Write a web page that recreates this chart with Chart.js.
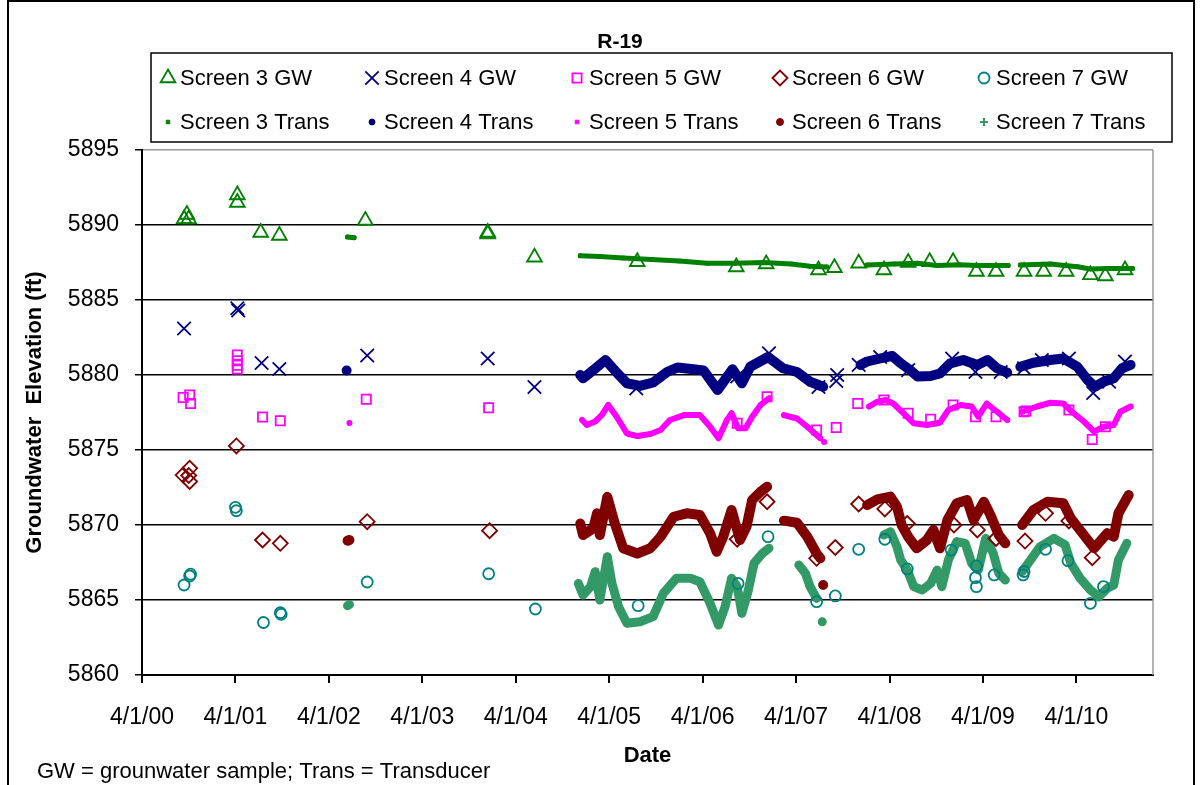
<!DOCTYPE html>
<html>
<head>
<meta charset="utf-8">
<script src="https://cdn.jsdelivr.net/npm/chart.js@4.4.1/dist/chart.umd.min.js"></script>
<style>
  body { margin: 0; background: #fff; }
  #wrap { position: relative; width: 1201px; height: 785px; overflow: hidden; }
</style>
</head>
<body>
<div id="wrap"><canvas id="chartCanvas" width="1201" height="785"></canvas></div>
<script>
// x values are decimal years (2000.25 = 4/1/00), y = elevation in ft
const TICK_POS = [2000.25, 2001.25, 2002.25, 2003.25, 2004.25, 2005.25, 2006.25, 2007.25, 2008.25, 2009.25, 2010.25];
const TICK_LABELS = ["4/1/00", "4/1/01", "4/1/02", "4/1/03", "4/1/04", "4/1/05", "4/1/06", "4/1/07", "4/1/08", "4/1/09", "4/1/10"];

const S3_GW = [
  [2000.70, 5890.4], [2000.73, 5890.7], [2000.75, 5890.4], [2001.27, 5892.0], [2001.27, 5891.5],
  [2001.52, 5889.5], [2001.72, 5889.3], [2002.64, 5890.3], [2003.95, 5889.4], [2003.95, 5889.5],
  [2004.45, 5887.85], [2005.55, 5887.55], [2006.61, 5887.2], [2006.93, 5887.4], [2007.49, 5887.0],
  [2007.66, 5887.15], [2007.92, 5887.45], [2008.19, 5887.0], [2008.45, 5887.5], [2008.68, 5887.55],
  [2008.93, 5887.55], [2009.18, 5886.9], [2009.39, 5886.9], [2009.69, 5886.9], [2009.90, 5886.9],
  [2010.14, 5886.9], [2010.40, 5886.67], [2010.56, 5886.6], [2010.77, 5887.0]
];
const S4_GW = [
  [2000.70, 5883.1], [2001.27, 5884.45], [2001.28, 5884.3], [2001.53, 5880.8], [2001.72, 5880.4],
  [2002.66, 5881.3], [2003.95, 5881.1], [2004.45, 5879.2], [2005.54, 5879.1], [2006.62, 5879.9],
  [2006.96, 5881.45], [2007.49, 5879.2], [2007.68, 5879.6], [2007.69, 5880.0], [2007.92, 5880.67],
  [2008.15, 5881.2], [2008.45, 5880.33], [2008.92, 5881.1], [2009.17, 5880.2], [2009.44, 5880.2],
  [2009.69, 5880.45], [2009.88, 5881.0], [2010.17, 5881.1], [2010.43, 5878.8], [2010.60, 5879.55],
  [2010.77, 5880.9]
];
const S5_GW = [
  [2000.69, 5878.5], [2000.76, 5878.67], [2000.77, 5878.1], [2001.27, 5881.33], [2001.27, 5880.95],
  [2001.27, 5880.65], [2001.27, 5880.4], [2001.54, 5877.2], [2001.73, 5876.95], [2002.65, 5878.38],
  [2003.96, 5877.82], [2006.62, 5876.78], [2006.94, 5878.55], [2007.47, 5876.33], [2007.68, 5876.5],
  [2007.91, 5878.1], [2008.19, 5878.33], [2008.45, 5877.45], [2008.69, 5877.05], [2008.93, 5878.0],
  [2009.17, 5877.22], [2009.39, 5877.22], [2009.69, 5877.55], [2009.71, 5877.6], [2010.17, 5877.67],
  [2010.42, 5875.7], [2010.56, 5876.55]
];
const S6_GW = [
  [2000.69, 5873.33], [2000.76, 5873.78], [2000.76, 5872.9], [2000.75, 5873.3], [2001.26, 5875.27],
  [2001.54, 5869.0], [2001.73, 5868.78], [2002.66, 5870.22], [2003.97, 5869.62], [2006.62, 5869.05],
  [2006.94, 5871.55], [2007.47, 5867.78], [2007.67, 5868.5], [2007.92, 5871.4], [2008.20, 5871.07],
  [2008.44, 5870.1], [2008.94, 5870.0], [2009.19, 5869.67], [2009.39, 5869.1], [2009.70, 5868.93],
  [2009.92, 5870.78], [2010.17, 5870.27], [2010.42, 5867.82]
];
const S7_GW = [
  [2000.70, 5866.0], [2000.76, 5866.6], [2000.77, 5866.72], [2001.25, 5871.18], [2001.26, 5870.95],
  [2001.55, 5863.5], [2001.73, 5864.15], [2001.74, 5864.05], [2002.66, 5866.2], [2003.96, 5866.75],
  [2004.46, 5864.4], [2005.56, 5864.62], [2006.63, 5866.1], [2006.95, 5869.22], [2007.47, 5864.89],
  [2007.67, 5865.27], [2007.92, 5868.38], [2008.20, 5869.05], [2008.44, 5867.07], [2008.91, 5868.33],
  [2009.18, 5867.27], [2009.17, 5866.49], [2009.18, 5865.89], [2009.37, 5866.67], [2009.68, 5866.67],
  [2009.69, 5866.9], [2009.92, 5868.38], [2010.16, 5867.62], [2010.40, 5864.78], [2010.54, 5865.89]
];

// transducer records, null = gap in the record
const S3_TR = [
  [2002.45, 5889.2], [2002.52, 5889.15], [2003.5, null],
  [2004.94, 5887.95], [2005.15, 5887.9], [2005.40, 5887.8], [2005.70, 5887.7], [2006.00, 5887.6],
  [2006.30, 5887.45], [2006.60, 5887.45], [2006.90, 5887.5], [2007.20, 5887.4], [2007.40, 5887.25],
  [2007.58, 5887.2], [2007.8, null],
  [2008.01, 5887.33], [2008.30, 5887.4], [2008.55, 5887.45], [2008.76, 5887.3], [2009.00, 5887.35],
  [2009.18, 5887.3], [2009.52, 5887.3], [2009.6, null],
  [2009.65, 5887.33], [2009.97, 5887.4], [2010.26, 5887.22], [2010.40, 5887.07], [2010.60, 5887.1],
  [2010.85, 5887.1]
];
const S4_TR = [
  [2002.44, 5880.3], [2003.5, null],
  [2004.94, 5880.0], [2004.97, 5879.78], [2005.08, 5880.33], [2005.21, 5881.0], [2005.34, 5880.1],
  [2005.44, 5879.45], [2005.58, 5879.27], [2005.72, 5879.5], [2005.87, 5880.2], [2005.98, 5880.5],
  [2006.15, 5880.38], [2006.26, 5880.3], [2006.41, 5879.0], [2006.57, 5880.38], [2006.67, 5879.45],
  [2006.76, 5880.55], [2006.95, 5881.2], [2007.11, 5880.45], [2007.26, 5880.2], [2007.40, 5879.55],
  [2007.54, 5879.22], [2007.8, null],
  [2007.94, 5880.67], [2008.01, 5880.9], [2008.15, 5881.1], [2008.28, 5881.27], [2008.37, 5880.78],
  [2008.47, 5880.33], [2008.55, 5879.9], [2008.69, 5879.93], [2008.79, 5880.1], [2008.90, 5880.78],
  [2009.04, 5881.0], [2009.19, 5880.67], [2009.30, 5881.0], [2009.40, 5880.45], [2009.51, 5880.16],
  [2009.6, null],
  [2009.65, 5880.55], [2009.79, 5880.82], [2009.97, 5881.0], [2010.11, 5881.1], [2010.26, 5880.55],
  [2010.37, 5879.67], [2010.45, 5879.22], [2010.54, 5879.55], [2010.65, 5879.78], [2010.74, 5880.45],
  [2010.83, 5880.67]
];
const S5_TR = [
  [2002.47, 5876.8], [2003.5, null],
  [2004.96, 5877.0], [2005.01, 5876.67], [2005.10, 5876.9], [2005.17, 5877.33], [2005.24, 5878.0],
  [2005.33, 5877.22], [2005.44, 5876.1], [2005.55, 5875.93], [2005.69, 5876.07], [2005.80, 5876.33],
  [2005.90, 5877.0], [2006.05, 5877.33], [2006.22, 5877.33], [2006.33, 5876.55], [2006.42, 5875.78],
  [2006.51, 5877.0], [2006.56, 5877.45], [2006.63, 5876.45], [2006.71, 5876.45], [2006.78, 5877.22],
  [2006.87, 5878.0], [2006.96, 5878.45], [2007.04, null],
  [2007.12, 5877.33], [2007.26, 5877.1], [2007.37, 5876.55], [2007.47, 5876.0], [2007.51, 5875.78],
  [2007.53, null], [2007.55, 5875.53], [2007.8, null],
  [2008.03, 5877.9], [2008.12, 5878.22], [2008.21, 5878.33], [2008.29, 5878.1], [2008.40, 5877.45],
  [2008.51, 5876.78], [2008.65, 5876.67], [2008.79, 5876.82], [2008.88, 5877.67], [2009.01, 5878.0],
  [2009.13, 5877.9], [2009.20, 5877.22], [2009.29, 5878.1], [2009.40, 5877.55], [2009.51, 5877.0],
  [2009.6, null],
  [2009.67, 5877.55], [2009.83, 5877.9], [2009.97, 5878.15], [2010.11, 5878.1], [2010.22, 5877.45],
  [2010.33, 5876.9], [2010.44, 5876.22], [2010.54, 5876.55], [2010.65, 5876.67], [2010.72, 5877.55],
  [2010.83, 5877.9]
];
const S6_TR = [
  [2002.45, 5868.95], [2002.47, 5869.0], [2003.5, null],
  [2004.94, 5870.1], [2004.97, 5869.33], [2005.08, 5869.78], [2005.12, 5870.78], [2005.15, 5869.33],
  [2005.23, 5871.88], [2005.31, 5870.1], [2005.40, 5868.45], [2005.55, 5868.1], [2005.69, 5868.45],
  [2005.80, 5869.22], [2005.94, 5870.55], [2006.08, 5870.78], [2006.22, 5870.67], [2006.33, 5869.45],
  [2006.40, 5868.22], [2006.47, 5869.22], [2006.56, 5871.0], [2006.65, 5869.0], [2006.72, 5869.89],
  [2006.78, 5871.67], [2006.87, 5872.22], [2006.94, 5872.55], [2007.04, null],
  [2007.12, 5870.29], [2007.26, 5870.15], [2007.37, 5869.22], [2007.47, 5868.1], [2007.51, 5867.78],
  [2007.53, null], [2007.54, 5866.0], [2007.8, null],
  [2008.01, 5871.33], [2008.12, 5871.71], [2008.26, 5871.89], [2008.33, 5871.22], [2008.38, 5870.0],
  [2008.45, 5869.22], [2008.54, 5868.45], [2008.65, 5869.0], [2008.72, 5869.67], [2008.79, 5868.45],
  [2008.87, 5870.33], [2008.97, 5871.45], [2009.08, 5871.67], [2009.15, 5870.33], [2009.26, 5871.55],
  [2009.33, 5870.67], [2009.42, 5869.33], [2009.49, 5868.78], [2009.6, null],
  [2009.67, 5870.0], [2009.79, 5871.0], [2009.94, 5871.55], [2010.11, 5871.45], [2010.19, 5870.45],
  [2010.33, 5869.33], [2010.44, 5868.45], [2010.58, 5869.45], [2010.65, 5869.22], [2010.70, 5870.78],
  [2010.81, 5872.0]
];
const S7_TR = [
  [2002.45, 5864.62], [2002.47, 5864.7], [2003.5, null],
  [2004.92, 5866.1], [2004.97, 5865.33], [2005.05, 5865.89], [2005.10, 5866.89], [2005.15, 5865.0],
  [2005.23, 5867.89], [2005.28, 5866.1], [2005.35, 5864.55], [2005.44, 5863.45], [2005.58, 5863.55],
  [2005.72, 5863.89], [2005.83, 5865.45], [2005.97, 5866.45], [2006.12, 5866.45], [2006.22, 5866.22],
  [2006.33, 5864.78], [2006.42, 5863.33], [2006.49, 5864.55], [2006.56, 5866.45], [2006.62, 5865.89],
  [2006.67, 5864.11], [2006.74, 5865.67], [2006.80, 5867.45], [2006.89, 5868.11], [2006.96, 5868.45],
  [2007.1, null],
  [2007.28, 5867.33], [2007.35, 5866.78], [2007.40, 5865.89], [2007.47, 5865.11], [2007.50, null],
  [2007.53, 5863.55], [2007.8, null],
  [2008.19, 5869.33], [2008.26, 5869.55], [2008.33, 5868.55], [2008.37, 5867.67], [2008.44, 5867.0],
  [2008.51, 5865.89], [2008.60, 5865.67], [2008.69, 5866.1], [2008.76, 5867.0], [2008.81, 5865.89],
  [2008.88, 5867.67], [2008.97, 5868.89], [2009.06, 5868.78], [2009.13, 5867.45], [2009.20, 5867.0],
  [2009.28, 5869.11], [2009.36, 5868.11], [2009.42, 5866.78], [2009.49, 5866.33], [2009.6, null],
  [2009.67, 5866.89], [2009.76, 5867.67], [2009.86, 5868.55], [2010.01, 5869.11], [2010.13, 5868.67],
  [2010.19, 5867.45], [2010.29, 5866.45], [2010.40, 5865.67], [2010.49, 5865.22], [2010.58, 5865.78],
  [2010.65, 5866.0], [2010.70, 5867.67], [2010.79, 5868.78]
];

const FONT = '"Liberation Sans", Arial, sans-serif';
const LEG_X = [168, 372, 577, 780, 984];

function toXY(pts) { return pts.map(function(p) { return { x: p[0], y: p[1] }; }); }

function gw(label, pts, color, style, r) {
  return {
    label: label, data: toXY(pts), showLine: false,
    pointStyle: style, pointRadius: r, pointBorderWidth: 1.8,
    pointBorderColor: color, pointBackgroundColor: "rgba(0,0,0,0)", borderColor: color
  };
}

function trans(label, pts, color, style, r, w) {
  return {
    label: label, data: toXY(pts), showLine: true, spanGaps: false,
    borderColor: color, borderWidth: w, borderCapStyle: "round", borderJoinStyle: "round",
    pointStyle: style, pointRadius: r, pointBorderWidth: style === "cross" ? 2 : 1,
    pointBorderColor: color, pointBackgroundColor: color
  };
}

// legend box, chart title, footnote and outer frame
const decor = {
  id: "decor",
  afterDraw: function(chart) {
    const ctx = chart.ctx;
    const a = chart.chartArea;
    ctx.save();
    ctx.strokeStyle = "#999"; ctx.lineWidth = 1.5;
    ctx.beginPath(); ctx.moveTo(a.right, a.top); ctx.lineTo(a.right, a.bottom); ctx.stroke();

    ctx.strokeStyle = "#000"; ctx.lineWidth = 2;
    ctx.strokeRect(8, 1, 1186, 830);

    ctx.fillStyle = "#000"; ctx.textBaseline = "middle"; ctx.textAlign = "center";
    ctx.font = "bold 21px " + FONT;
    ctx.fillText("R-19", 620, 42);

    ctx.lineWidth = 1.5;
    ctx.strokeRect(151, 53, 1021, 89);

    ctx.font = "22px " + FONT; ctx.textAlign = "left";
    chart.data.datasets.forEach(function(ds, i) {
      const mx = LEG_X[i % 5], my = i < 5 ? 78 : 122;
      ctx.save();
      ctx.strokeStyle = ds.pointBorderColor; ctx.fillStyle = ds.pointBackgroundColor;
      ctx.lineWidth = ds.pointBorderWidth;
      if (Chart.helpers && Chart.helpers.drawPoint) {
        Chart.helpers.drawPoint(ctx, { pointStyle: ds.pointStyle, radius: ds.pointRadius, borderWidth: ds.pointBorderWidth, rotation: 0 }, mx, my);
      } else {
        ctx.beginPath(); ctx.arc(mx, my, 4, 0, Math.PI * 2); ctx.stroke();
      }
      ctx.restore();
      ctx.fillText(ds.label, mx + 12, my + 1);
    });

    ctx.font = "22px " + FONT;
    ctx.fillText("GW = grounwater sample; Trans = Transducer", 37, 772);
    ctx.restore();
  }
};

Chart.defaults.font.family = FONT;
Chart.defaults.color = "#000";

new Chart(document.getElementById("chartCanvas"), {
  type: "scatter",
  data: {
    datasets: [
      gw("Screen 3 GW", S3_GW, "#008000", "triangle", 8.5),
      gw("Screen 4 GW", S4_GW, "#000080", "crossRot", 9.5),
      gw("Screen 5 GW", S5_GW, "#ff00ff", "rect", 6.5),
      gw("Screen 6 GW", S6_GW, "#800000", "rectRot", 7.5),
      gw("Screen 7 GW", S7_GW, "#008080", "circle", 5.5),
      trans("Screen 3 Trans", S3_TR, "#008000", "rect", 2.5, 5),
      trans("Screen 4 Trans", S4_TR, "#000080", "circle", 3, 10),
      trans("Screen 5 Trans", S5_TR, "#ff00ff", "rect", 2.5, 6),
      trans("Screen 6 Trans", S6_TR, "#800000", "circle", 3.5, 10),
      trans("Screen 7 Trans", S7_TR, "#339966", "cross", 4, 9)
    ]
  },
  options: {
    responsive: false,
    animation: false,
    events: [],
    layout: { padding: { top: 150, right: 48, bottom: 0, left: 0 } },
    plugins: { legend: { display: false }, tooltip: { enabled: false } },
    scales: {
      x: {
        type: "linear", min: 2000.25, max: 2011.07,
        afterBuildTicks: function(axis) { axis.ticks = TICK_POS.map(function(v) { return { value: v }; }); },
        afterFit: function(axis) { axis.height = 110; },
        ticks: {
          autoSkip: false, maxRotation: 0, padding: 21, font: { size: 23 },
          callback: function(v, i) { return TICK_LABELS[i]; }
        },
        grid: { drawOnChartArea: false, drawTicks: true, tickLength: 8, color: "#000", lineWidth: 2 },
        border: { color: "#000", width: 2 },
        title: { display: true, text: "Date", font: { size: 22, weight: "bold" }, padding: { top: 0, bottom: 16 } }
      },
      y: {
        min: 5860, max: 5895,
        afterFit: function(axis) { axis.width = 142; },
        ticks: { stepSize: 5, padding: 16, font: { size: 23 }, callback: function(v) { return String(v); } },
        grid: {
          color: function(c) { return c.tick && c.tick.value === 5895 ? "#999" : "#000"; },
          lineWidth: 1.5, drawTicks: true, tickLength: 7, tickColor: "#000"
        },
        border: { color: "#000", width: 2 },
        title: { display: true, text: "Groundwater  Elevation (ft)", font: { size: 22, weight: "bold" }, padding: { top: 22, bottom: 0 } }
      }
    }
  },
  plugins: [decor]
});
</script>
</body>
</html>
